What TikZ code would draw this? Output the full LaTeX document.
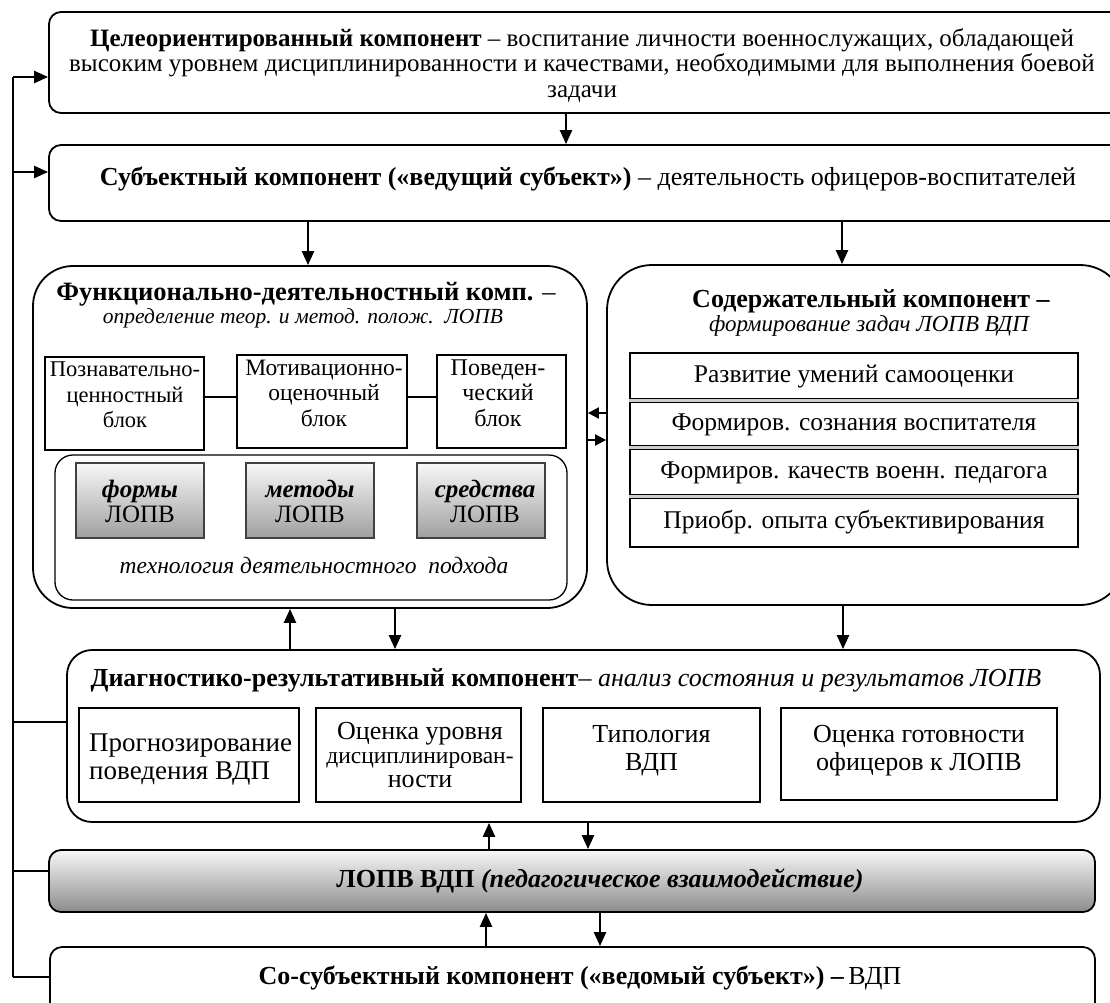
\documentclass[tikz,border=0pt]{standalone}
\usepackage{fontspec}
\setmainfont{Liberation Serif}
\usetikzlibrary{arrows.meta,shadings}
\newcommand\fs[2]{\fontsize{#1}{#2}\selectfont}
\tikzset{
  bigbox/.style={draw, line width=1.8pt, rounded corners=12pt, inner sep=0pt},
  plainbox/.style={draw, line width=1.3pt, inner sep=0pt},
  gradbox/.style={draw=black!75, line width=1.1pt, inner sep=0pt, top color=gray!6, bottom color=gray!75},
  txt/.style={inner sep=0pt, align=center},
  arr/.style={line width=2.4pt, -{Triangle[length=14pt,width=12pt]}},
  arrS/.style={line width=2pt, -{Triangle[length=11pt,width=11pt]}},
  bus/.style={line width=1.3pt},
  sep/.style={line width=1.2pt, double=gray!40, double distance=2.2pt}
}
\begin{document}
\begin{tikzpicture}[x=1pt,y=-1pt]
\clip (0,0) rectangle (1110,1002);
\fill[white] (0,0) rectangle (1110,1002);
% top goal box
\node[bigbox, minimum width=1081, minimum height=101] (goal) at (589.5,62.5) {};
\node[txt, font=\fs{25}{25.5}] (goalT) at (582,65) {\textbf{Целеориентированный компонент} – воспитание личности военнослужащих, обладающей\\высоким уровнем дисциплинированности и качествами, необходимыми для выполнения боевой\\задачи};
% subject box
\node[bigbox, minimum width=1081, minimum height=76] (subj) at (589.5,183) {};
\node[txt, font=\fs{26}{28}] (subjT) at (588,179) {\textbf{Субъектный компонент («ведущий субъект»)} – деятельность офицеров-воспитателей};
% functional box
\node[bigbox, rounded corners=40pt, minimum width=554, minimum height=342] (func) at (310,437) {};
\node[txt, font=\fs{26.5}{28}] (funcT) at (306,294) {\textbf{Функционально-деятельностный комп.} –};
\node[txt, font=\fs{21.5}{23}\itshape] (funcS) at (303,318) {определение теор. и метод. полож.~~ЛОПВ};
\node[plainbox, minimum width=159, minimum height=93] (pozn) at (124.5,403.5) {};
\node[txt, font=\fs{22.5}{25.5}] (poznT) at (125,395) {Познавательно-\\ценностный\\блок};
\node[plainbox, minimum width=170, minimum height=93] (motiv) at (322,401.5) {};
\node[txt, font=\fs{23.5}{25.5}] (motivT) at (324,393) {Мотивационно-\\оценочный\\блок};
\node[plainbox, minimum width=129, minimum height=93] (poved) at (501.5,401.5) {};
\node[txt, font=\fs{24}{25.5}] (povedT) at (498,393) {Поведен-\\ческий\\блок};
\draw[line width=1.2pt] (pozn.east |- 0,397) -- (motiv.west |- 0,397);
\draw[line width=1.2pt] (motiv.east |- 0,397) -- (poved.west |- 0,397);
\node[draw, line width=1.3pt, rounded corners=18pt, minimum width=512, minimum height=145, inner sep=0pt] (tech) at (311,527.5) {};
\node[gradbox, minimum width=128, minimum height=75] (formy) at (140,500.5) {};
\node[txt, font=\fs{25}{25}] (formyT) at (140,501) {\textbf{\textit{формы}}\\ЛОПВ};
\node[gradbox, minimum width=128, minimum height=75] (metody) at (310,500.5) {};
\node[txt, font=\fs{25}{25}] (metodyT) at (310,501) {\textbf{\textit{методы}}\\ЛОПВ};
\node[gradbox, minimum width=128, minimum height=75] (sredstva) at (481,500.5) {};
\node[txt, font=\fs{25}{25}] (sredstvaT) at (485,501) {\textbf{\textit{средства}}\\ЛОПВ};
\node[txt, font=\fs{23.5}{25}\itshape] (techT) at (314,565) {технология деятельностного~~подхода};
% content box
\node[bigbox, rounded corners=45pt, minimum width=518, minimum height=340] (cont) at (866,435) {};
\node[txt, font=\fs{26}{28}] (contT) at (871,301) {\textbf{Содержательный компонент –}};
\node[txt, font=\fs{23}{25}\itshape] (contS) at (869,326) {формирование задач ЛОПВ ВДП};
\node[plainbox, minimum width=448, minimum height=194] (tbl) at (854,450) {};
\draw[sep] (tbl.west |- 0,400.5) -- (tbl.east |- 0,400.5);
\draw[sep] (tbl.west |- 0,447.5) -- (tbl.east |- 0,447.5);
\draw[sep] (tbl.west |- 0,496.5) -- (tbl.east |- 0,496.5);
\node[txt, font=\fs{25.5}{27}] (r1) at (854,377) {Развитие умений самооценки};
\node[txt, font=\fs{25.5}{27}] (r2) at (854,425) {Формиров. сознания воспитателя};
\node[txt, font=\fs{25.5}{27}] (r3) at (854,473) {Формиров. качеств военн. педагога};
\node[txt, font=\fs{25.5}{27}] (r4) at (854,522) {Приобр. опыта субъективирования};
% diagnostic box
\node[bigbox, rounded corners=25pt, minimum width=1033, minimum height=172] (diag) at (583.5,736) {};
\node[txt, font=\fs{26}{28}] (diagT) at (566,680) {\textbf{Диагностико-результативный компонент}– \textit{анализ состояния и результатов ЛОПВ}};
\node[plainbox, minimum width=220, minimum height=94] (d1) at (189,755) {};
\node[txt, font=\fs{27}{28}, align=left, anchor=west] (d1T) at (89,760) {Прогнозирование\\поведения ВДП};
\node[plainbox, minimum width=205, minimum height=94] (d2) at (418.5,755) {};
\node[txt, font=\fs{26}{24}] (d2T) at (420,755) {Оценка уровня\\{\fs{23.5}{24}дисциплинирован-}\\ности};
\node[plainbox, minimum width=217, minimum height=94] (d3) at (651.5,755) {};
\node[txt, font=\fs{26}{28}] (d3T) at (651.5,751) {Типология\\ВДП};
\node[plainbox, minimum width=276, minimum height=92] (d4) at (919,754) {};
\node[txt, font=\fs{26}{28}] (d4T) at (919,751) {Оценка готовности\\офицеров к ЛОПВ};
% LOPV bar
\node[draw, line width=1.8pt, rounded corners=12pt, minimum width=1046, minimum height=62, inner sep=0pt, top color=gray!6, bottom color=gray!90] (lopv) at (572,881) {};
\node[txt, font=\fs{26}{28}] (lopvT) at (600,881) {\textbf{ЛОПВ ВДП \textit{(педагогическое взаимодействие)}}};
% co-subject box
\node[bigbox, minimum width=1045, minimum height=93] (co) at (572.5,993.5) {};
\node[txt, font=\fs{26}{28}] (coT) at (580,978) {\textbf{Со-субъектный компонент («ведомый субъект») –}\,ВДП};
% vertical arrows
\draw[arr] (goal.south -| 566,0) -- (subj.north -| 566,0);
\draw[arr] (subj.south -| 308,0) -- (func.north -| 308,0);
\draw[arr] (subj.south -| 842,0) -- (cont.north -| 842,0);
\draw[arrS] (cont.west |- 0,413) -- (func.east |- 0,413);
\draw[arrS] (func.east |- 0,440) -- (cont.west |- 0,440);
\draw[arr] (diag.north -| 290,0) -- (func.south -| 290,0);
\draw[arr] (func.south -| 395,0) -- (diag.north -| 395,0);
\draw[arr] (cont.south -| 843,0) -- (diag.north -| 843,0);
\draw[arr] (lopv.north -| 489,0) -- (diag.south -| 489,0);
\draw[arr] (diag.south -| 588,0) -- (lopv.north -| 588,0);
\draw[arr] (co.north -| 486,0) -- (lopv.south -| 486,0);
\draw[arr] (lopv.south -| 600,0) -- (co.north -| 600,0);
% left bus
\coordinate (bA) at (13,77);
\coordinate (bB) at (13,172);
\coordinate (bC) at (13,722);
\coordinate (bD) at (13,871);
\coordinate (bE) at (13,977);
\draw[bus] (bA) -- (bE);
\draw[arr] (bA) -- (goal.west |- bA);
\draw[arr] (bB) -- (subj.west |- bB);
\draw[bus] (bC) -- (diag.west |- bC);
\draw[bus] (bD) -- (lopv.west |- bD);
\draw[bus] (bE) -- (co.west |- bE);
\end{tikzpicture}
\end{document}
